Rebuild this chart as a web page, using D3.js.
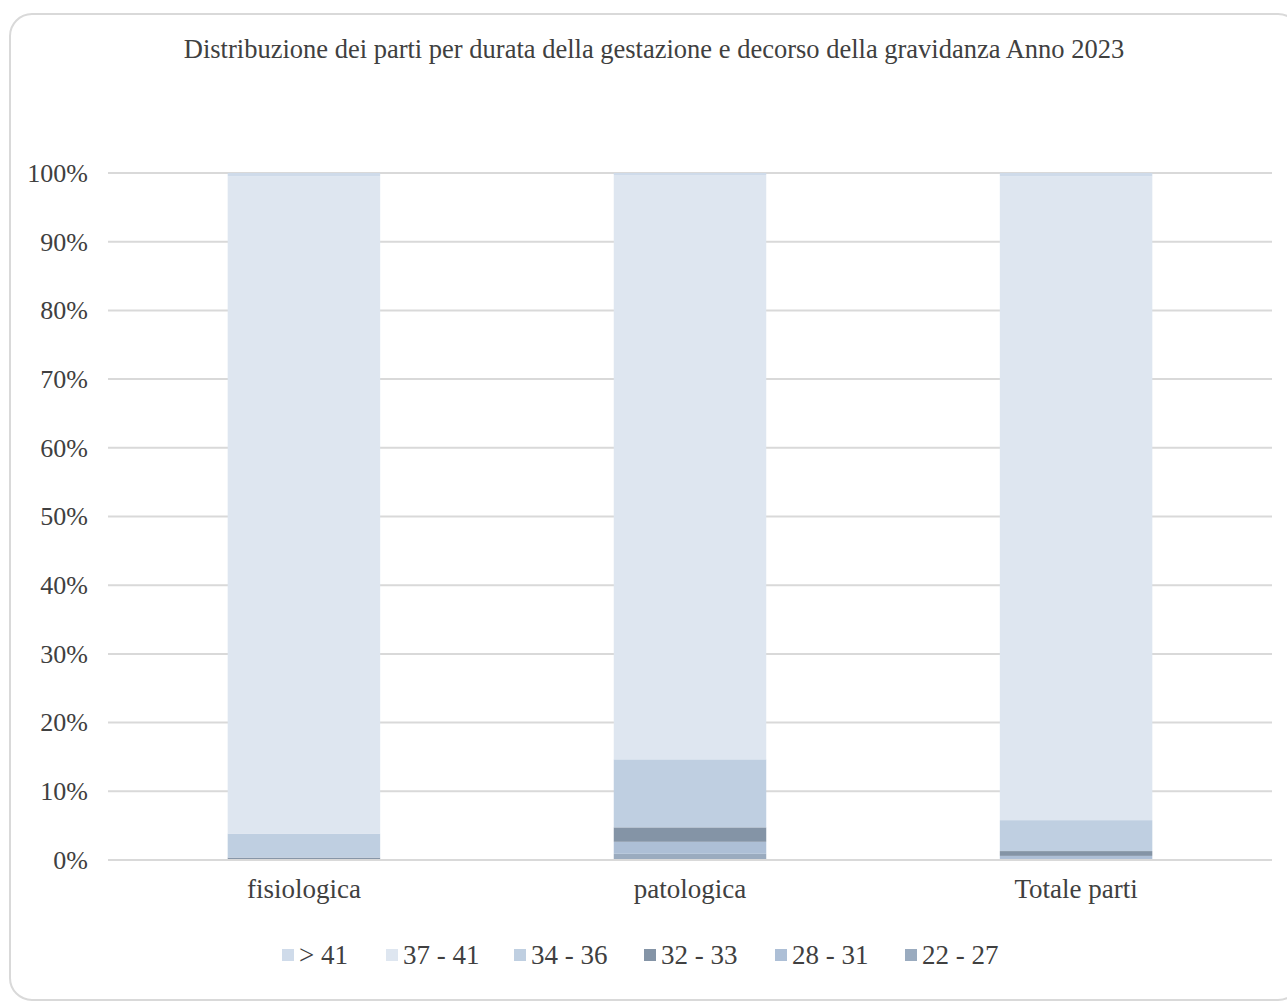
<!DOCTYPE html>
<html>
<head>
<meta charset="utf-8">
<script src="https://cdn.jsdelivr.net/npm/d3@7"></script>
<style>
  html, body { margin: 0; padding: 0; background: #fff; }
  svg { display: block; }
</style>
</head>
<body>
<svg id="chart" width="1287" height="1003"></svg>
<script>
// Categories along the x axis
const categories = ["fisiologica", "patologica", "Totale parti"];

// Gestational age classes (weeks), bottom of stack first
const classes = ["22 - 27", "28 - 31", "32 - 33", "34 - 36", "37 - 41", "> 41"];

// Percentage share of each class for every category
const s22_27 = [0.05, 0.9, 0.15];
const s28_31 = [0.1, 1.75, 0.45];
const s32_33 = [0.2, 2.1, 0.7];
const s34_36 = [3.5, 9.9, 4.5];
const s37_41 = [95.65, 85.05, 93.7];
const sOver41 = [0.5, 0.3, 0.5];

const seriesValues = [s22_27, s28_31, s32_33, s34_36, s37_41, sOver41];

// Legend order
const legendOrder = ["> 41", "37 - 41", "34 - 36", "32 - 33", "28 - 31", "22 - 27"];

const yTicks = [0, 10, 20, 30, 40, 50, 60, 70, 80, 90, 100];

const colors = {
  "> 41": "#cfdbea",
  "37 - 41": "#dee6f0",
  "34 - 36": "#bfcfe1",
  "32 - 33": "#8494a6",
  "28 - 31": "#adbfd6",
  "22 - 27": "#9aabbf"
};

const rows = categories.map((c, i) => {
  const r = { category: c };
  classes.forEach((k, j) => { r[k] = seriesValues[j][i]; });
  return r;
});

const svg = d3.select("#chart");
const font = "'Liberation Serif', 'Times New Roman', serif";
const textColor = "#404040";

// Card frame
svg.append("rect")
  .attr("x", 10).attr("y", 14)
  .attr("width", 1290).attr("height", 986)
  .attr("rx", 22).attr("ry", 22)
  .attr("fill", "#fff")
  .attr("stroke", "#d9d9d9")
  .attr("stroke-width", 2);

const plot = { left: 108, right: 1272, top: 173, bottom: 860 };

const x = d3.scaleBand()
  .domain(categories)
  .range([plot.left, plot.right])
  .paddingInner(0.605)
  .paddingOuter(0.31);

const y = d3.scaleLinear()
  .domain([0, 100])
  .range([plot.bottom, plot.top]);

// Gridlines
svg.append("g")
  .selectAll("line")
  .data(yTicks)
  .join("line")
  .attr("x1", plot.left).attr("x2", plot.right)
  .attr("y1", d => y(d)).attr("y2", d => y(d))
  .attr("stroke", "#d9d9d9")
  .attr("stroke-width", 2);

// Y axis labels
const yAxis = d3.axisLeft(y)
  .tickValues(yTicks)
  .tickFormat(d => d + "%")
  .tickSize(0)
  .tickPadding(20);

const gy = svg.append("g")
  .attr("transform", `translate(${plot.left},0)`)
  .call(yAxis);
gy.select(".domain").remove();
gy.selectAll("text")
  .attr("font-family", font)
  .attr("font-size", 26)
  .attr("fill", textColor);

// Stacked bars
const stack = d3.stack().keys(classes);
const stacked = stack(rows);

svg.append("g")
  .selectAll("g")
  .data(stacked)
  .join("g")
  .attr("fill", d => colors[d.key])
  .selectAll("rect")
  .data(d => d)
  .join("rect")
  .attr("x", d => x(d.data.category))
  .attr("width", x.bandwidth())
  .attr("y", d => y(d[1]))
  .attr("height", d => y(d[0]) - y(d[1]));

// Baseline
svg.append("line")
  .attr("x1", plot.left).attr("x2", plot.right)
  .attr("y1", y(0)).attr("y2", y(0))
  .attr("stroke", "#d9d9d9")
  .attr("stroke-width", 2);

// X axis labels
const xAxis = d3.axisBottom(x).tickSize(0).tickPadding(19);
const gx = svg.append("g")
  .attr("transform", `translate(0,${plot.bottom})`)
  .call(xAxis);
gx.select(".domain").remove();
gx.selectAll("text")
  .attr("font-family", font)
  .attr("font-size", 27)
  .attr("fill", textColor);

// Title
svg.append("text")
  .attr("x", 654).attr("y", 58)
  .attr("text-anchor", "middle")
  .attr("font-family", font)
  .attr("font-size", 26.5)
  .attr("fill", textColor)
  .text("Distribuzione dei parti per durata della gestazione e decorso della gravidanza  Anno 2023");

// Legend
const legendX = [282, 386, 514, 644, 775, 905];
const legend = svg.append("g");
legendOrder.forEach((k, i) => {
  const g = legend.append("g").attr("transform", `translate(${legendX[i]},955)`);
  g.append("rect")
    .attr("x", 0).attr("y", -6)
    .attr("width", 12).attr("height", 12)
    .attr("fill", colors[k]);
  g.append("text")
    .attr("x", 17).attr("y", 9)
    .attr("font-family", font)
    .attr("font-size", 27)
    .attr("fill", textColor)
    .text(k);
});
</script>
</body>
</html>
